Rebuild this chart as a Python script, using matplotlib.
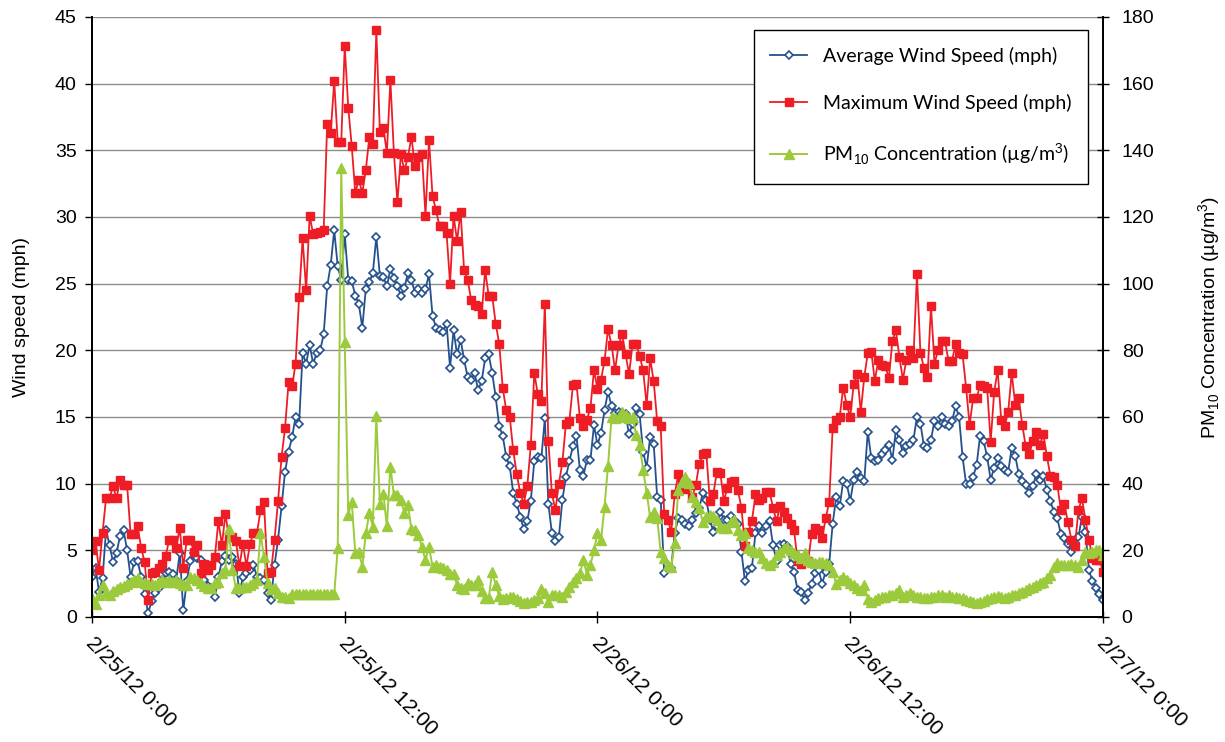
import matplotlib
matplotlib.use('Agg')
import matplotlib.pyplot as plt
import matplotlib.transforms as mtransforms
import pandas as pd

plt.rcParams['font.family'] = ['Liberation Sans', 'DejaVu Sans']
plt.rcParams['mathtext.fontset'] = 'custom'
plt.rcParams['mathtext.rm'] = 'Liberation Sans'

# ========= data: 10-minute readings, 2/25/12 0:00 -> 2/27/12 0:00 =========
times = pd.date_range('2012-02-25 00:00', periods=289, freq='10min')

avg_wind = [
    3.0, 3.7, 1.9, 2.9, 6.5, 5.4, 4.1, 4.8, 6.1, 6.5,
    5.0, 3.0, 4.1, 4.2, 3.0, 1.7, 0.3, 1.2, 1.8, 2.2,
    2.8, 3.3, 3.4, 3.2, 2.8, 4.8, 0.5, 2.7, 4.2, 4.8,
    4.4, 4.3, 2.8, 2.3, 2.2, 1.5, 3.0, 4.2, 4.6, 4.3,
    4.5, 4.0, 1.8, 3.0, 3.3, 3.5, 3.9, 3.0, 2.9, 2.8,
    1.8, 1.3, 3.9, 5.8, 8.3, 10.9, 12.4, 13.5, 15.0, 14.5,
    19.8, 19.0, 20.4, 19.0, 19.8, 20.0, 21.2, 24.8, 26.4, 29.0,
    26.3, 25.3, 28.7, 25.3, 25.2, 24.1, 23.5, 21.7, 24.6, 25.1,
    25.8, 28.5, 25.6, 25.5, 24.8, 26.1, 25.4, 24.8, 24.1, 24.7,
    25.8, 25.3, 24.3, 24.6, 24.3, 24.6, 25.7, 22.6, 21.7, 21.5,
    21.4, 22.0, 18.7, 21.5, 19.7, 20.8, 19.3, 18.0, 17.8, 18.3,
    17.0, 17.7, 19.4, 19.7, 18.3, 16.5, 14.3, 13.6, 12.0, 11.3,
    9.3, 8.5, 7.5, 6.6, 7.2, 8.7, 11.7, 12.0, 11.9, 14.9,
    8.5, 6.3, 5.7, 6.0, 8.8, 10.5, 11.7, 12.8, 13.6, 11.0,
    10.6, 11.8, 11.8, 14.4, 12.9, 13.8, 15.5, 16.9, 15.8, 15.3,
    15.4, 15.3, 15.2, 13.7, 14.5, 15.7, 15.2, 12.4, 11.2, 13.5,
    13.0, 9.0, 8.8, 3.3, 3.7, 3.7, 6.3, 7.4, 7.3, 7.0,
    6.8, 7.3, 7.8, 8.2, 9.3, 8.8, 7.3, 6.4, 6.8, 7.9,
    7.3, 7.3, 7.6, 7.3, 7.0, 4.9, 2.7, 3.5, 3.7, 6.3,
    6.8, 6.3, 6.8, 7.2, 5.4, 4.2, 5.4, 5.5, 5.3, 4.0,
    3.4, 2.0, 1.9, 1.3, 1.8, 2.5, 3.3, 3.5, 2.5, 3.4,
    4.0, 7.0, 9.0, 8.3, 10.2, 10.0, 8.7, 10.3, 10.9, 10.4,
    10.2, 13.9, 11.9, 11.7, 11.8, 12.2, 12.5, 12.9, 11.8, 14.0,
    13.3, 12.3, 12.8, 13.0, 13.3, 15.0, 14.5, 12.8, 12.7, 13.3,
    14.7, 14.3, 15.0, 14.5, 14.3, 14.7, 15.8, 15.0, 12.0, 10.0,
    10.0, 10.5, 11.4, 13.6, 13.2, 12.0, 10.3, 11.2, 11.9, 11.3,
    11.0, 10.9, 12.7, 12.1, 10.7, 10.2, 9.9, 9.3, 9.8, 10.7,
    10.3, 10.6, 9.5, 8.7, 7.9, 7.4, 6.2, 5.9, 5.5, 4.9,
    5.3, 6.0, 7.5, 6.4, 3.5, 2.7, 2.2, 1.7, 1.3,
]

max_wind = [
    5.0, 5.7, 3.5, 6.3, 8.9, 8.9, 9.8, 8.9, 10.3, 9.9,
    9.9, 6.2, 6.2, 6.8, 5.2, 4.1, 1.3, 3.3, 3.4, 3.7,
    4.0, 4.6, 5.8, 5.8, 5.2, 6.7, 3.7, 5.8, 5.8, 4.9,
    5.4, 3.3, 4.0, 3.5, 3.9, 4.5, 7.2, 5.4, 7.7, 6.0,
    6.0, 5.7, 3.8, 5.5, 3.8, 5.5, 6.3, 6.3, 8.0, 8.6,
    3.3, 3.4, 5.8, 8.7, 12.0, 14.2, 17.6, 17.3, 19.0, 24.0,
    28.4, 24.5, 30.1, 28.7, 28.8, 28.9, 29.0, 37.0, 36.3, 40.2,
    35.6, 35.6, 42.8, 38.2, 35.3, 31.8, 32.8, 31.8, 33.5, 36.0,
    35.5, 44.0, 36.4, 36.7, 34.8, 40.3, 34.8, 31.1, 34.7, 33.5,
    34.5, 36.0, 33.8, 34.5, 34.7, 30.1, 35.8, 31.6, 30.5, 29.3,
    29.3, 28.8, 25.0, 30.1, 28.2, 30.4, 26.0, 25.3, 23.8, 23.4,
    23.3, 22.7, 26.0, 24.1, 24.1, 22.0, 20.5, 17.2, 15.5, 15.0,
    12.5, 10.7, 9.3, 8.5, 9.8, 12.9, 18.3, 16.7, 16.2, 23.5,
    13.2, 9.3, 8.0, 10.0, 11.6, 14.5, 14.7, 17.4, 17.5, 14.9,
    14.3, 14.8, 15.7, 18.5, 17.1, 17.8, 19.2, 21.6, 20.4, 18.5,
    20.4, 21.2, 19.7, 18.2, 20.5, 20.5, 19.6, 18.5, 15.9, 19.4,
    17.7, 14.7, 14.3, 7.7, 7.3, 6.4, 9.2, 10.7, 10.2, 9.6,
    9.9, 9.0, 9.9, 11.5, 12.2, 12.3, 8.7, 9.2, 10.9, 10.8,
    8.7, 9.7, 10.1, 10.2, 9.5, 8.2, 5.3, 6.4, 7.2, 9.2,
    8.8, 8.9, 9.4, 9.4, 8.2, 7.2, 8.3, 7.9, 7.4, 7.0,
    6.5, 4.2, 4.0, 4.4, 4.2, 6.2, 6.7, 6.5, 5.9, 7.4,
    8.6, 14.2, 14.8, 15.0, 17.2, 15.9, 15.0, 17.5, 18.2, 15.4,
    18.0, 19.8, 19.9, 17.7, 19.3, 18.9, 18.8, 17.9, 20.7, 21.5,
    19.5, 17.8, 19.3, 20.0, 19.4, 25.7, 19.8, 18.7, 18.0, 23.3,
    19.0, 20.0, 20.7, 20.7, 19.2, 19.2, 20.5, 19.8, 19.7, 17.2,
    14.4, 16.4, 16.4, 17.4, 17.3, 17.2, 13.1, 16.9, 18.5, 14.8,
    14.3, 15.4, 18.3, 15.9, 16.4, 14.4, 12.8, 12.2, 13.2, 13.9,
    12.9, 13.7, 12.1, 10.6, 10.5, 9.9, 8.0, 8.5, 7.1, 5.8,
    5.3, 8.0, 8.9, 7.3, 5.8, 4.4, 4.3, 4.3, 3.4,
]

pm10 = [
    5.6, 3.9, 6.5, 9.6, 7.1, 6.6, 7.9, 8.3, 8.9, 9.3,
    9.9, 10.6, 11.1, 11.6, 10.6, 10.1, 9.9, 9.9, 9.6, 10.6,
    11.1, 10.6, 11.1, 10.6, 11.1, 10.1, 9.6, 9.6, 12.1, 11.6,
    11.1, 10.1, 9.3, 8.6, 8.6, 10.1, 10.6, 13.1, 14.0, 26.3,
    14.1, 8.6, 8.6, 9.1, 9.1, 9.6, 10.1, 11.1, 25.1, 18.1,
    10.1, 8.3, 8.6, 7.1, 6.1, 5.9, 5.6, 6.8, 6.8, 6.8,
    6.8, 6.8, 6.8, 6.8, 6.8, 6.8, 6.8, 6.8, 6.8, 6.8,
    20.6, 134.7, 82.6, 30.6, 34.6, 19.1, 19.6, 15.1, 25.1, 31.1,
    27.1, 60.3, 33.9, 36.9, 27.3, 45.1, 36.6, 36.6, 35.1, 31.1,
    33.6, 26.3, 26.1, 24.6, 20.9, 17.1, 21.1, 15.1, 15.6, 15.1,
    14.6, 14.1, 12.9, 12.9, 9.6, 8.6, 8.3, 10.1, 9.6, 9.6,
    11.1, 7.9, 5.6, 5.6, 13.6, 9.6, 6.3, 5.3, 5.6, 6.1,
    5.9, 5.3, 4.9, 4.3, 4.6, 4.6, 5.1, 5.6, 8.3, 7.1,
    4.6, 6.6, 6.6, 6.6, 5.9, 7.6, 8.9, 10.6, 11.6, 13.1,
    17.1, 12.6, 15.6, 20.1, 25.1, 23.1, 33.1, 45.3, 59.9, 59.6,
    60.1, 61.6, 60.6, 59.6, 60.1, 54.6, 51.6, 44.1, 37.3, 29.9,
    31.6, 29.6, 19.6, 17.6, 15.6, 15.1, 22.1, 38.1, 40.6, 42.1,
    40.3, 36.1, 34.6, 32.6, 28.6, 30.1, 30.6, 30.3, 29.1, 27.1,
    26.6, 26.6, 28.6, 29.1, 26.1, 24.6, 25.1, 20.6, 20.1, 19.6,
    19.6, 17.6, 16.1, 15.6, 16.6, 18.6, 19.6, 20.6, 21.1, 20.1,
    19.1, 18.6, 17.6, 19.1, 17.1, 16.6, 16.1, 16.6, 16.6, 16.3,
    15.6, 13.6, 9.9, 11.1, 12.0, 11.1, 10.1, 9.6, 8.6, 8.1,
    9.6, 5.5, 4.6, 5.1, 5.6, 6.1, 6.1, 6.6, 6.6, 7.1,
    8.1, 6.1, 6.6, 7.1, 6.6, 6.1, 6.1, 5.6, 5.6, 6.1,
    6.1, 6.6, 6.6, 6.1, 6.6, 6.1, 6.1, 5.6, 5.6, 5.1,
    4.9, 4.6, 4.3, 4.6, 4.9, 5.3, 5.6, 6.1, 6.3, 6.1,
    5.6, 6.1, 6.6, 6.6, 7.1, 7.6, 8.1, 8.6, 9.1, 9.6,
    10.1, 10.6, 11.6, 12.6, 15.1, 16.1, 15.6, 15.6, 15.6, 15.9,
    15.6, 15.1, 17.1, 19.6, 19.1, 19.6, 20.1, 20.1, 18.6,
]

tick_times = pd.to_datetime(['2012-02-25 00:00', '2012-02-25 12:00', '2012-02-26 00:00',
                             '2012-02-26 12:00', '2012-02-27 00:00'])
tick_labels = ['2/25/12 0:00', '2/25/12 12:00', '2/26/12 0:00', '2/26/12 12:00', '2/27/12 0:00']

# ================== 绘图 ==================
fig, ax = plt.subplots(figsize=(12.25, 7.42), dpi=100)
fig.subplots_adjust(left=0.0751, right=0.9004, top=0.9771, bottom=0.1685)
ax2 = ax.twinx()

blue = '#24508E'
red = '#EE1D25'
green = '#9BCB3C'

l1, = ax.plot(times, avg_wind, color=blue, lw=1.3, marker='D', ms=4.5,
              mfc='white', mec=blue, mew=1.2, label='Average Wind Speed (mph)')
l2, = ax.plot(times, max_wind, color=red, lw=1.3, marker='s', ms=6,
              mfc=red, mec=red, label='Maximum Wind Speed (mph)')
l3, = ax2.plot(times, pm10, color=green, lw=1.4, marker='^', ms=6.5,
               mfc=green, mec=green, label='PM$_{10}$ Concentration (µg/m$^3$)')

ax.set_ylim(0, 45)
ax.set_yticks(range(0, 46, 5))
ax2.set_ylim(0, 180)
ax2.set_yticks(range(0, 181, 20))
ax.set_xlim(times[0], times[-1])
ax.set_xticks(tick_times)
ax.set_xticklabels(tick_labels, rotation=-45, ha='left', va='center',
                   rotation_mode='anchor', fontsize=15.3)
ax.tick_params(axis='x', direction='inout', length=9, width=1, pad=12)
# 把日期标签向左挪一点
shift = mtransforms.ScaledTranslation(-3 / 100, 0, fig.dpi_scale_trans)
for lab in ax.get_xticklabels():
    lab.set_transform(lab.get_transform() + shift)
ax.tick_params(axis='y', direction='out', length=5, width=1, labelsize=14, pad=6)
ax2.tick_params(axis='y', direction='inout', length=9, width=1, labelsize=14, pad=9)

ax.grid(axis='y', color='#8c8c8c', lw=1)
ax.set_axisbelow(True)
for a in (ax, ax2):
    a.spines['top'].set_visible(False)
    for s in ('left', 'right', 'bottom'):
        a.spines[s].set_linewidth(1.3)
        a.spines[s].set_color('black')

ax.set_ylabel('Wind speed (mph)', fontsize=14, labelpad=18)
ax2.set_ylabel('PM$_{10}$ Concentration (µg/m$^3$)', fontsize=14, labelpad=30)

leg = ax.legend(handles=[l1, l2, l3], loc='upper right', bbox_to_anchor=(0.985, 0.978),
                borderaxespad=0, fancybox=False, framealpha=1, edgecolor='black',
                prop={'family': ['Lato', 'DejaVu Sans'], 'size': 14},
                labelspacing=1.5, borderpad=0.85, handlelength=1.9, handletextpad=0.8,
                numpoints=1)
leg.get_frame().set_linewidth(1.0)
leg.set_zorder(10)

fig.savefig('out.png', dpi=100)
